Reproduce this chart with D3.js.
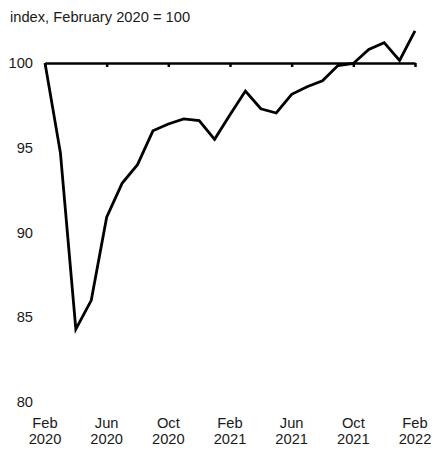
<!DOCTYPE html>
<html>
<head>
<meta charset="utf-8">
<script src="https://cdn.jsdelivr.net/npm/d3@7"></script>
<style>
  body { margin: 0; background: #fff; }
  text { font-family: "Liberation Sans", Arial, sans-serif; fill: #1a1a1a; }
</style>
</head>
<body>
<div id="chart"></div>
<script>
// Monthly index, Feb 2020 to Feb 2022
var months = ["2020-02","2020-03","2020-04","2020-05","2020-06","2020-07","2020-08",
  "2020-09","2020-10","2020-11","2020-12","2021-01","2021-02","2021-03","2021-04",
  "2021-05","2021-06","2021-07","2021-08","2021-09","2021-10","2021-11","2021-12",
  "2022-01","2022-02"];
var values = [100, 94.7, 84.3, 86.0, 90.9, 92.9, 94.0, 96.0, 96.4, 96.7, 96.6, 95.5,
  96.95, 98.35, 97.3, 97.05, 98.15, 98.6, 98.95, 99.85, 99.97, 100.8, 101.2, 100.15, 101.9];
var yTicks = [80, 85, 90, 95, 100];
var xTickMonths = ["2020-02","2020-06","2020-10","2021-02","2021-06","2021-10","2022-02"];
var xTickLabels = [["Feb","2020"],["Jun","2020"],["Oct","2020"],["Feb","2021"],
  ["Jun","2021"],["Oct","2021"],["Feb","2022"]];

var svgWidth = 435;
var svgHeight = 450;
var fontSize = "14.7px";

var svg = d3.select("#chart")
  .append("svg")
  .attr("width", svgWidth)
  .attr("height", svgHeight);

// equal spacing per month
var xScale = d3.scalePoint()
  .domain(months)
  .range([45, 415]);

var yScale = d3.scaleLinear()
  .domain([80, 100])
  .range([402, 63]);

// title
svg.append("text")
  .attr("x", 10)
  .attr("y", 22)
  .style("font-size", fontSize)
  .text("index, February 2020 = 100");

// y tick labels (no axis line)
svg.selectAll(".ylab")
  .data(yTicks)
  .enter()
  .append("text")
  .attr("class", "ylab")
  .attr("x", 33)
  .attr("y", d => yScale(d))
  .attr("dy", "0.35em")
  .attr("text-anchor", "end")
  .style("font-size", fontSize)
  .text(d => d);

// x axis drawn at 100
var bottomAxis = d3.axisBottom(xScale)
  .tickValues(xTickMonths)
  .tickSize(4)
  .tickSizeOuter(0)
  .tickFormat("");

var xAxis = svg.append("g")
  .attr("transform", `translate(0, ${yScale(100)})`)
  .call(bottomAxis);
xAxis.select(".domain").attr("stroke", "#000").attr("stroke-width", 2.5);
xAxis.selectAll(".tick line").attr("stroke", "#000").attr("stroke-width", 2.5);

// x tick labels at bottom
var xLabels = svg.selectAll(".xlab")
  .data(xTickMonths)
  .enter()
  .append("text")
  .attr("class", "xlab")
  .attr("text-anchor", "middle")
  .style("font-size", fontSize)
  .attr("transform", d => `translate(${xScale(d)}, 428)`);
xLabels.append("tspan").attr("x", 0).attr("y", 0).text((d, i) => xTickLabels[i][0]);
xLabels.append("tspan").attr("x", 0).attr("y", 16).text((d, i) => xTickLabels[i][1]);

// the line
var line = d3.line()
  .x((d, i) => xScale(months[i]))
  .y(d => yScale(d));

svg.append("path")
  .datum(values)
  .attr("fill", "none")
  .attr("stroke", "#000")
  .attr("stroke-width", 2.8)
  .attr("stroke-linejoin", "miter")
  .attr("d", line);
</script>
</body>
</html>
